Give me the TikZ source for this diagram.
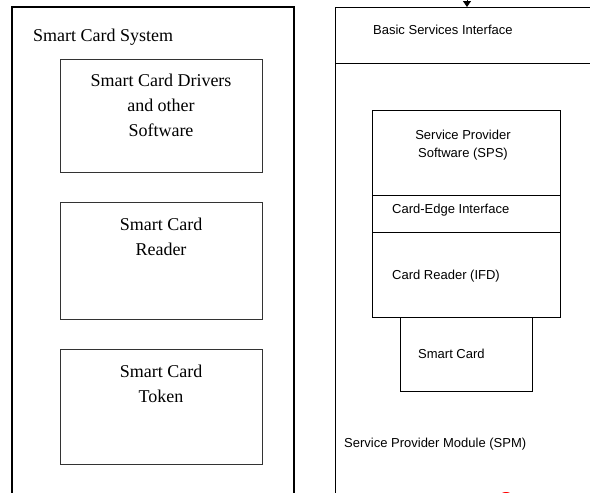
\documentclass[tikz,border=0pt]{standalone}
\usepackage{fontspec}
\setmainfont{Liberation Serif}
\newfontfamily\sansfnt{Liberation Sans}
\usetikzlibrary{arrows.meta}
\begin{document}
\begin{tikzpicture}[x=1pt,y=-1pt,
  outerline/.style={draw=black,line width=1.5pt},
  innerbox/.style={draw=black!80,line width=1pt,minimum width=202pt,anchor=north west,inner sep=0pt},
  spmbox/.style={draw=black,line width=0.9pt,anchor=north west,inner sep=0pt},
  serifbig/.style={font=\fontsize{18}{25}\selectfont,align=center,inner sep=0pt,anchor=north},
  sanslbl/.style={font=\sansfnt\fontsize{13}{18}\selectfont,inner sep=0pt},
  arrowline/.style={draw=black,line width=0.9pt,-{Triangle[length=6pt,width=8pt]}}]
\useasboundingbox (0,0) rectangle (590,493);
% ---------- left: Smart Card System ----------
\coordinate (lbl) at (12,500);
\coordinate (ltl) at (12,7);
\coordinate (ltr) at (294,7);
\coordinate (lbr) at (294,500);
\draw[outerline] (lbl) -- (ltl) -- (ltr) -- (lbr);
\node[anchor=base west,inner sep=0pt,font=\fontsize{18}{25}\selectfont] (sys) at (33,41) {Smart Card System};
\node[innerbox,minimum height=113pt] (drv) at (60,59) {};
\node[serifbig] (drvt) at (161,73.5) {Smart Card Drivers\\and other\\Software};
\node[innerbox,minimum height=117pt] (rdr) at (60,202) {};
\node[serifbig] (rdrt) at (161,217.5) {Smart Card\\Reader};
\node[innerbox,minimum height=115pt] (tok) at (60,349) {};
\node[serifbig] (tokt) at (161,364.5) {Smart Card\\Token};
% ---------- right: SPM ----------
\coordinate (rbl) at (335,500);
\coordinate (rtl) at (335,7);
\coordinate (rtr) at (592,7);
\coordinate (rml) at (335,63);
\coordinate (rmr) at (592,63);
\draw[black,line width=0.9pt] (rbl) -- (rtl) -- (rtr);
\draw[black,line width=0.9pt] (rml) -- (rmr);
\coordinate (arrtop) at (467,-3);
\coordinate (arrbot) at (467,7);
\draw[arrowline] (arrtop) -- (arrbot);
\node[sanslbl,anchor=base west] (bsi) at (373,34) {Basic Services Interface};
\node[spmbox,minimum width=188pt,minimum height=85pt] (sps) at (372,110) {};
\node[sanslbl,align=center,anchor=north] (spst) at (463,130) {Service Provider\\Software (SPS)};
\node[spmbox,minimum width=188pt,minimum height=37pt] (cei) at (372,195) {};
\node[sanslbl,anchor=base west] (ceit) at (392,213) {Card-Edge Interface};
\node[spmbox,minimum width=188pt,minimum height=85pt] (ifd) at (372,232) {};
\node[sanslbl,anchor=base west] (ifdt) at (392,279) {Card Reader (IFD)};
\node[spmbox,minimum width=132pt,minimum height=74pt] (sc) at (400,317) {};
\node[sanslbl,anchor=base west] (sct) at (418,358) {Smart Card};
\node[sanslbl,anchor=base west] (spm) at (344,447) {Service Provider Module (SPM)};
% red mark at bottom edge
\fill[red] (506,497) ellipse [x radius=7pt,y radius=5pt];
\end{tikzpicture}
\end{document}
